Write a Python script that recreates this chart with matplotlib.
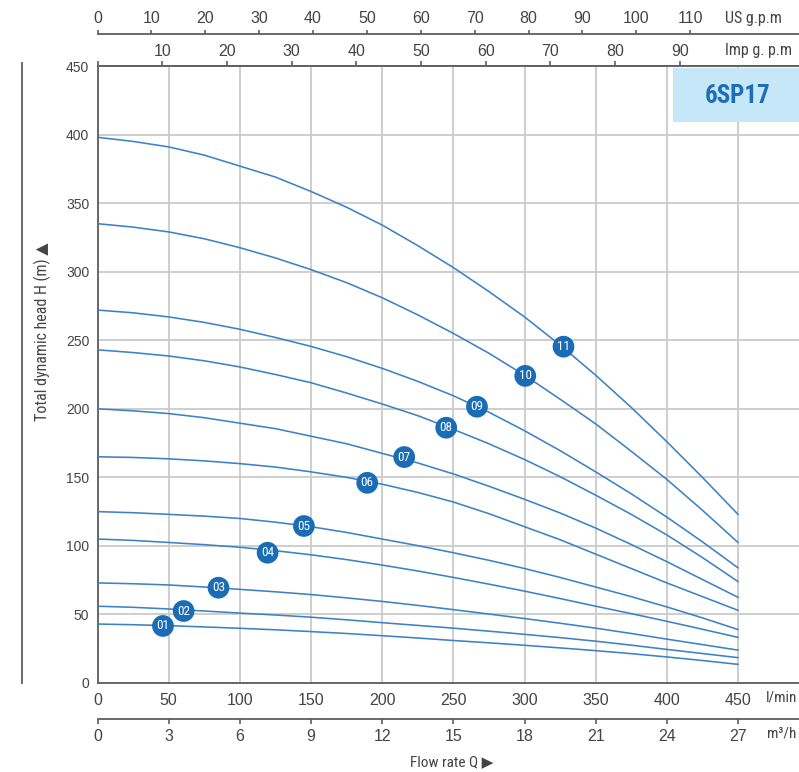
"""
6SP17 泵性能曲线（扬程-流量），多级数曲线 + 多单位流量轴。
"""

import matplotlib
matplotlib.use("Agg")  # 无 GUI 后端
import matplotlib.pyplot as plt
from matplotlib.patches import Rectangle
from matplotlib.lines import Line2D

W, H = 799, 772  # 输出像素

# ============================================================
# 数据
# ============================================================
flow = [0, 25, 50, 75, 100, 125, 150, 175, 200, 225,
        250, 275, 300, 325, 350, 375, 400, 425, 450]  # l/min

head_01 = [43, 42.5, 41.8, 40.9, 39.9, 38.8, 37.5, 36.1, 34.5, 32.8,
           31, 29.3, 27.5, 25.6, 23.6, 21.4, 19, 16.4, 13.6]
head_02 = [56, 55.2, 54, 52.5, 51, 49.6, 48, 46.1, 44, 42,
           40, 37.8, 35.5, 33.1, 30.5, 27.6, 24.5, 21.5, 18.5]
head_03 = [73, 72.4, 71.5, 70, 68.3, 66.5, 64.5, 62.1, 59.5, 56.6,
           53.5, 50.3, 47, 43.6, 40, 36.1, 32, 28, 24]
head_04 = [105, 104, 102.5, 100.9, 99, 96.5, 93.5, 90, 86, 81.7,
           77, 72.1, 67, 61.6, 56, 50.6, 45, 39.2, 33.3]
head_05 = [125, 124.2, 123, 121.7, 120, 117.3, 114, 109.8, 105, 100.2,
           95, 89.5, 83.5, 77, 70, 63, 55.5, 47.5, 39]
head_06 = [165, 164.5, 163.5, 162, 160, 157.5, 154, 150, 145, 139,
           132, 123.5, 114, 104.5, 94, 83.5, 73, 63, 53]
head_07 = [200, 198.5, 196.5, 193.5, 189.5, 185.5, 180, 174.5, 167.5, 160.5,
           152.5, 143.5, 134, 124, 113, 101, 88.5, 75.5, 62.5]
head_08 = [243, 241, 238.5, 235, 230.5, 225, 219, 211.5, 203.5, 195,
           185, 174.5, 163, 150.5, 137, 123, 108, 91.5, 74]
head_09 = [272, 270, 267, 263, 258, 252, 245.5, 238, 229.5, 220,
           209.5, 197.5, 184, 169.5, 154, 138, 121, 103, 84]
head_10 = [335, 332.5, 329, 324, 317.5, 310, 301.5, 292, 281, 268.5,
           255, 240.5, 224.5, 207, 189, 169, 148.5, 126, 102.5]
head_11 = [398, 395, 391, 385, 377, 369, 358.5, 347, 334, 319,
           303, 285.5, 267, 246.5, 224.5, 201, 176, 150, 123]
curves = [head_01, head_02, head_03, head_04, head_05, head_06,
          head_07, head_08, head_09, head_10, head_11]

badge_flow = [46, 60.5, 85, 119.5, 145, 189.5, 215.5, 245, 266.6, 300.5, 327.4]
badge_head = [41.6, 52.5, 69.5, 95, 114.5, 146, 164.8, 186.2, 201.5, 224, 245.3]
badge_labels = ["01", "02", "03", "04", "05", "06", "07", "08", "09", "10", "11"]

x_ticks = [0, 50, 100, 150, 200, 250, 300, 350, 400, 450]
y_ticks = [0, 50, 100, 150, 200, 250, 300, 350, 400, 450]
us_ticks = [0, 10, 20, 30, 40, 50, 60, 70, 80, 90, 100, 110]
imp_ticks = [0, 10, 20, 30, 40, 50, 60, 70, 80, 90]
imp_labels = ["", "10", "20", "30", "40", "50", "60", "70", "80", "90"]
m3_ticks = [0, 3, 6, 9, 12, 15, 18, 21, 24, 27]

LINE_C = "#3d82c4"
BADGE_C = "#1a6db5"
GRID_C = "#cacaca"
AXIS_C = "#5e5e5e"
TEXT_C = "#444444"
NARROW = ["Roboto Condensed", "DejaVu Sans"]
REGULAR = ["Liberation Sans", "DejaVu Sans"]

plt.rcParams["font.family"] = REGULAR


def fx(px):
    return px / W


def fy(py):
    return 1 - py / H


# ============================================================
# 主图
# ============================================================
x0, x450, y0, y450 = 97.5, 738.0, 683.0, 66.0
sx = (x450 - x0) / 450

fig = plt.figure(figsize=(W / 100, H / 100), dpi=100)
ax = fig.add_axes([fx(x0), fy(y0), 1 - fx(x0), (y0 - y450) / H])
ax.set_xlim(0, (W - x0) / sx)
ax.set_ylim(0, 450)

for c in curves:
    ax.plot(flow, c, color=LINE_C, lw=1.15, zorder=3, solid_joinstyle="round")

ax.scatter(badge_flow, badge_head, s=245, color=BADGE_C, edgecolors="none", zorder=5)
for q, h, lab in zip(badge_flow, badge_head, badge_labels):
    ax.text(q, h, lab, color="white", fontsize=9.5, ha="center", va="center",
            zorder=6, family=NARROW)

ax.set_xticks(x_ticks)
ax.set_yticks(y_ticks)
ax.grid(True, color=GRID_C, lw=1.3)
ax.set_axisbelow(True)
ax.tick_params(axis="both", length=0, colors=TEXT_C)
ax.tick_params(axis="x", labelsize=11.5, pad=7)
ax.tick_params(axis="y", labelsize=10, pad=6)
ax.spines["right"].set_visible(False)
for s in ("left", "top", "bottom"):
    ax.spines[s].set_color(AXIS_C)
    ax.spines[s].set_linewidth(1.3)

# 辅助流量轴
imp = ax.secondary_xaxis("top", functions=(lambda q: q / 4.54609, lambda g: g * 4.54609))
imp.set_xticks(imp_ticks, imp_labels)

us = ax.secondary_xaxis(1 + 32 / (y0 - y450),
                        functions=(lambda q: q / 3.78541, lambda g: g * 3.78541))
us.set_alignment("top")
us.set_xticks(us_ticks)

m3 = ax.secondary_xaxis(-36 / (y0 - y450), functions=(lambda q: q * 0.06, lambda m: m / 0.06))
m3.set_alignment("bottom")
m3.set_xticks(m3_ticks)

for sec, side, tlen, tpad in ((imp, "top", 3.6, 1.5), (us, "top", 3.0, 2.5),
                              (m3, "bottom", 3.6, 3.5)):
    sec.tick_params(direction="out", length=tlen, width=1.2, colors=AXIS_C,
                    labelcolor=TEXT_C, labelsize=11.5, pad=tpad)
    sec.spines[side].set_color(AXIS_C)
    sec.spines[side].set_linewidth(1.3)

# 单位与轴标题
unit_kw = dict(fontsize=11.5, color=TEXT_C, va="center", family=NARROW)
fig.text(fx(725), fy(50), "Imp g. p.m", **unit_kw)
fig.text(fx(725), fy(19), "US g.p.m", **unit_kw)
fig.text(fx(766), fy(698), "l/min", **dict(unit_kw, fontsize=11))
fig.text(fx(767), fy(733), "m³/h", **dict(unit_kw, fontsize=11))
fig.text(fx(452), fy(762), "Flow rate Q ▶", fontsize=11, color=TEXT_C,
         ha="center", va="center", family=NARROW)
fig.text(fx(42), fy(332), "Total dynamic head H (m) ▲", fontsize=11.5, color=TEXT_C,
         rotation=90, ha="center", va="center", family=NARROW)

fig.add_artist(Line2D([fx(22), fx(22)], [fy(63), fy(683)], transform=fig.transFigure,
                      color=AXIS_C, lw=1.3))

# 型号标签
fig.add_artist(Rectangle((fx(673), fy(122)), 1 - fx(673), 54 / H,
                         transform=fig.transFigure, fc="#c6e7f7", ec="none", zorder=2))
fig.text(fx(738), fy(96), "6SP17", fontsize=18, fontweight="bold", color="#1c6fb6",
         ha="center", va="center", zorder=3, family=NARROW)

fig.savefig("out.png", dpi=100)
plt.close(fig)
